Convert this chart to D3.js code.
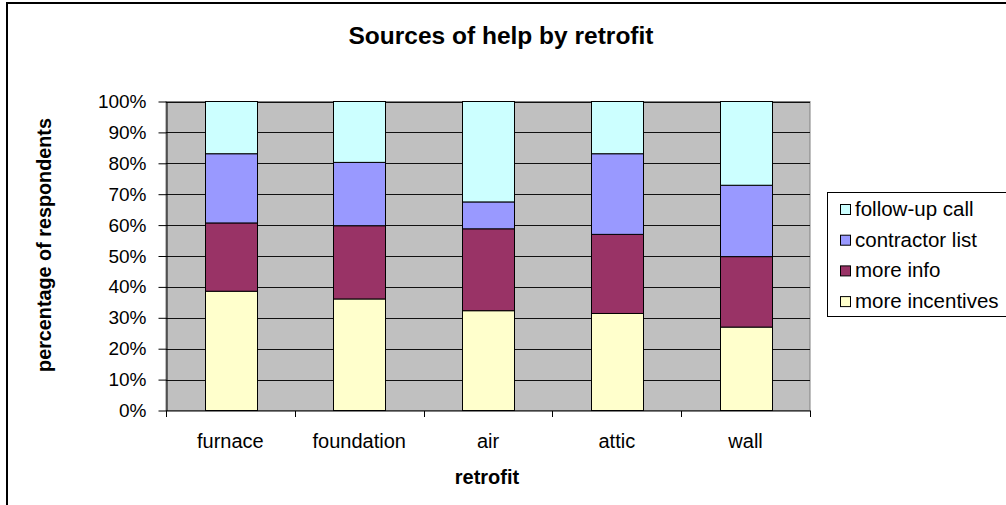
<!DOCTYPE html>
<html>
<head>
<meta charset="utf-8">
<script src="https://cdn.jsdelivr.net/npm/d3@7/dist/d3.min.js"></script>
<style>
  html, body { margin: 0; padding: 0; background: #fff; }
  svg { display: block; font-family: Arial, "Liberation Sans", sans-serif; }
</style>
</head>
<body>
<svg id="chart" width="1006" height="505"></svg>
<script>
// Retrofit categories along the x axis
const categories = ["furnace", "foundation", "air", "attic", "wall"];

// Series, stacked bottom to top (share of respondents, %)
const seriesNames = ["more incentives", "more info", "contractor list", "follow-up call"];
const moreIncentives = [38.6, 36.1, 32.3, 31.4, 27.0];
const moreInfo       = [22.1, 23.7, 26.5, 25.6, 22.8];
const contractorList = [22.4, 20.5, 8.7, 26.1, 23.1];
const followUpCall   = [16.9, 19.7, 32.5, 16.9, 27.1];

const yTicks = [0, 10, 20, 30, 40, 50, 60, 70, 80, 90, 100];
const colors = ["#FFFFCC", "#993366", "#9999FF", "#CCFFFF"];

const seriesValues = [moreIncentives, moreInfo, contractorList, followUpCall];
const rows = categories.map((c, i) => {
  const r = { category: c };
  seriesNames.forEach((s, k) => { r[s] = seriesValues[k][i]; });
  return r;
});

const svg = d3.select("#chart");

// outer chart frame
svg.append("rect")
  .attr("x", 7).attr("y", 3)
  .attr("width", 1010).attr("height", 520)
  .attr("fill", "#fff").attr("stroke", "#000").attr("stroke-width", 2);

const plot = { left: 166, right: 810, top: 101.5, bottom: 410.5 };

const x = d3.scaleBand().domain(categories)
  .range([plot.left, plot.right]).paddingInner(0.6).paddingOuter(0.3);
const xBand = d3.scaleBand().domain(categories).range([plot.left, plot.right]);
const y = d3.scaleLinear().domain([0, 100]).range([plot.bottom, plot.top]);

// plot background
svg.append("rect")
  .attr("x", plot.left).attr("y", plot.top)
  .attr("width", plot.right - plot.left).attr("height", plot.bottom - plot.top)
  .attr("fill", "#C0C0C0").attr("stroke", "#808080").attr("stroke-width", 1);

// horizontal gridlines
svg.append("g").selectAll("line").data(yTicks.slice(1)).join("line")
  .attr("x1", plot.left).attr("x2", plot.right)
  .attr("y1", d => Math.round(y(d)) + 0.5).attr("y2", d => Math.round(y(d)) + 0.5)
  .attr("stroke", "#111").attr("stroke-width", 1.2);

// stacked bars
const stack = d3.stack().keys(seriesNames)(rows);
svg.append("g").selectAll("g").data(stack).join("g")
  .attr("fill", (d, i) => colors[i])
  .selectAll("rect").data(d => d).join("rect")
  .attr("x", d => Math.round(x(d.data.category)) + 0.5)
  .attr("y", d => y(d[1]))
  .attr("width", Math.round(x.bandwidth()))
  .attr("height", d => y(d[0]) - y(d[1]))
  .attr("stroke", "#000").attr("stroke-width", 1);

// y axis
const yAxis = d3.axisLeft(y).tickValues(yTicks).tickFormat(d => d + "%")
  .tickSizeInner(8).tickSizeOuter(0).tickPadding(12);
const gy = svg.append("g").attr("transform", `translate(${plot.left + 0.5},0)`).call(yAxis);
gy.select(".domain").attr("stroke", "#000");
gy.selectAll(".tick line").attr("stroke", "#000");
gy.selectAll("text").attr("font-size", 19).attr("fill", "#000")
  .attr("font-family", "Arial, 'Liberation Sans', sans-serif");

// x axis: ticks at category boundaries
const gx = svg.append("g").attr("transform", `translate(0,${plot.bottom + 0.5})`);
gx.append("line").attr("x1", plot.left).attr("x2", plot.right + 1)
  .attr("stroke", "#000");
const bounds = categories.map(c => xBand(c)).concat([plot.right]);
gx.selectAll("line.tk").data(bounds).join("line").attr("class", "tk")
  .attr("x1", d => Math.round(d) + 0.5).attr("x2", d => Math.round(d) + 0.5)
  .attr("y1", 0).attr("y2", 6).attr("stroke", "#000");
gx.selectAll("text").data(categories).join("text")
  .attr("x", d => xBand(d) + xBand.bandwidth() / 2)
  .attr("y", 37)
  .attr("text-anchor", "middle")
  .attr("font-size", 20)
  .text(d => d);

// titles
svg.append("text").attr("x", 501).attr("y", 44).attr("text-anchor", "middle")
  .attr("font-size", 24.5).attr("font-weight", "bold").text("Sources of help by retrofit");
svg.append("text").attr("x", 487).attr("y", 484).attr("text-anchor", "middle")
  .attr("font-size", 20).attr("font-weight", "bold").text("retrofit");
svg.append("text").attr("transform", "translate(51,245) rotate(-90)")
  .attr("text-anchor", "middle")
  .attr("font-size", 19.8).attr("font-weight", "bold").text("percentage of respondents");

// legend (top entry is the top of the stack)
const lg = svg.append("g");
lg.append("rect").attr("x", 827.5).attr("y", 192.5).attr("width", 190).attr("height", 124)
  .attr("fill", "#fff").attr("stroke", "#000").attr("stroke-width", 1);
const legendOrder = seriesNames.map((s, i) => ({ name: s, color: colors[i] })).reverse();
const li = lg.selectAll("g").data(legendOrder).join("g")
  .attr("transform", (d, i) => `translate(0,${216 + i * 30.7})`);
li.append("rect").attr("x", 840.5).attr("y", -11.5).attr("width", 10).attr("height", 10)
  .attr("fill", d => d.color).attr("stroke", "#000");
li.append("text").attr("x", 855).attr("y", 0).attr("font-size", 20.5).text(d => d.name);
</script>
</body>
</html>
